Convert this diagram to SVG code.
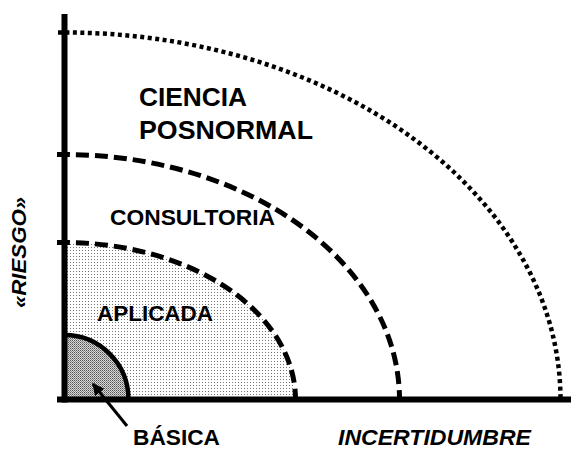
<svg xmlns="http://www.w3.org/2000/svg" width="571" height="449" viewBox="0 0 571 449">
<style>
.lbl{font-family:"Liberation Sans",Arial,sans-serif;font-weight:bold;fill:#000}
.it{font-style:italic}
.arc{fill:none;stroke:#000}
</style>
<defs>
<pattern id="light" width="3" height="3" patternUnits="userSpaceOnUse">
<rect width="3" height="3" fill="#fff"/>
<rect x="1" y="1" width="1" height="1" fill="#777"/>
</pattern>
<pattern id="dark" width="2" height="2" patternUnits="userSpaceOnUse">
<rect width="2" height="2" fill="#d8d8d8"/>
<rect width="1" height="1" fill="#555"/>
<rect x="1" y="1" width="1" height="1" fill="#888"/>
</pattern>
<marker id="ah" viewBox="0 0 10 10" refX="9" refY="5" markerWidth="4" markerHeight="4" orient="auto">
<path d="M0,0 L10,5 L0,10 z" fill="#000"/>
</marker>
</defs>
<g id="fills">
<path d="M64.5,399.5 L64.5,242.5 A231,157 0 0 1 295.5,399.5 Z" fill="url(#light)"/>
<path d="M64.5,399.5 L64.5,335 A64,64.5 0 0 1 128.5,399.5 Z" fill="url(#dark)"/>
</g>
<g id="axes">
<line x1="64.5" y1="14" x2="64.5" y2="402.5" stroke="#000" stroke-width="6"/>
<line x1="57" y1="399.5" x2="571" y2="399.5" stroke="#000" stroke-width="6"/>
</g>
<g id="posnormal">
<path class="arc" d="M58,32.5 L64.5,32.5 A496,367 0 0 1 560.5,399.5" stroke-width="4.5" stroke-dasharray="4 3.5"/>
<text class="lbl" x="139" y="106" font-size="26.5" textLength="108" lengthAdjust="spacingAndGlyphs">CIENCIA</text>
<text class="lbl" x="139" y="139" font-size="26.5" textLength="174" lengthAdjust="spacingAndGlyphs">POSNORMAL</text>
</g>
<g id="consultoria">
<path class="arc" d="M57,154.5 L64.5,154.5 A335,245 0 0 1 399.5,399.5" stroke-width="5" stroke-dasharray="13 6"/>
<text class="lbl" x="110" y="225" font-size="22.5" textLength="165" lengthAdjust="spacingAndGlyphs">CONSULTORIA</text>
</g>
<g id="aplicada">
<path class="arc" d="M57,242.5 L64.5,242.5 A231,157 0 0 1 295.5,399.5" stroke-width="5" stroke-dasharray="13 6"/>
<text class="lbl" x="97" y="320.5" font-size="22.5" textLength="116" lengthAdjust="spacingAndGlyphs">APLICADA</text>
</g>
<g id="basica">
<path class="arc" d="M64.5,335 A64,64.5 0 0 1 128.5,399.5" stroke-width="4.5"/>
<text class="lbl" x="133" y="445" font-size="21.5" textLength="87" lengthAdjust="spacingAndGlyphs">BÁSICA</text>
</g>
<g id="connectors">
<line x1="127" y1="426" x2="93" y2="384" stroke="#000" stroke-width="3" marker-end="url(#ah)"/>
</g>
<g id="axis-labels">
<text class="lbl it" x="338" y="445" font-size="21.5" textLength="193" lengthAdjust="spacingAndGlyphs">INCERTIDUMBRE</text>
<text class="lbl it" transform="translate(25.5,252.5) rotate(-90)" x="0" y="0" text-anchor="middle" font-size="20" textLength="111" lengthAdjust="spacingAndGlyphs">«RIESGO»</text>
</g>
</svg>
